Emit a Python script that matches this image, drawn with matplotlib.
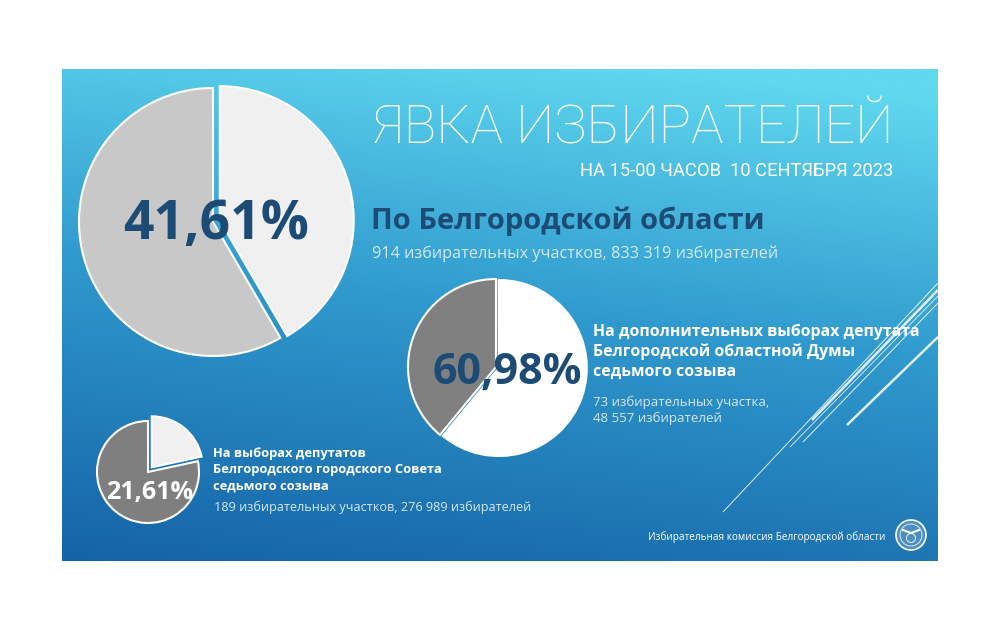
import numpy as np
import matplotlib
matplotlib.use("Agg")
import matplotlib.pyplot as plt
from matplotlib.colors import to_rgb
from matplotlib.patches import Circle

# ---- data ----
region_turnout = [41.61, 58.39]
duma_turnout = [60.98, 39.02]
city_turnout = [21.61, 78.39]

title = "ЯВКА ИЗБИРАТЕЛЕЙ"
subtitle = "НА 15-00 ЧАСОВ  10 СЕНТЯБРЯ 2023"
region_label = "По Белгородской области"
region_note = "914 избирательных участков, 833 319 избирателей"
duma_label = "На дополнительных выборах депутата\nБелгородской областной Думы\nседьмого созыва"
duma_note = "73 избирательных участка,\n48 557 избирателей"
city_label = "На выборах депутатов\nБелгородского городского Совета\nседьмого созыва"
city_note = "189 избирательных участков, 276 989 избирателей"
footer = "Избирательная комиссия Белгородской области"

W, H = 1000, 642
fig = plt.figure(figsize=(W / 100, H / 100), dpi=100)
fig.patch.set_facecolor("white")
ax = fig.add_axes([0, 0, 1, 1])
ax.set_axis_off()

def Y(y):
    return H - y

# ---- background gradient panel ----
x0, x1, y0, y1 = 62, 938, 69, 561
gh, gw = 300, 400
v = np.linspace(0, 1, gh)[:, None]
u = np.linspace(0, 1, gw)[None, :]
t = np.clip(0.85 * v + 0.18 * (1 - u) - 0.05, 0, 1)
stops = [(0.0, "#60d8ef"), (0.45, "#309ace"), (1.0, "#1461a4")]
img = np.zeros((gh, gw, 3))
for ch in range(3):
    xs = [s[0] for s in stops]
    ys = [to_rgb(s[1])[ch] for s in stops]
    img[:, :, ch] = np.interp(t, xs, ys)
ax.imshow(img, extent=(x0, x1, Y(y1), Y(y0)), origin="upper", aspect="auto", zorder=0)

# decorative lines
for (xa, ya, xb, yb, lw) in [(723, 512, 938, 283, 0.7), (812, 420, 938, 290, 1.8),
                             (803, 442, 938, 303, 0.7), (847, 425, 938, 337, 1.8),
                             (790, 447, 938, 296, 0.6)]:
    ax.plot([xa, xb], [Y(ya), Y(yb)], color="white", lw=lw, alpha=0.85, zorder=1,
            solid_capstyle="butt")

navy = "#1c4b75"
sans = ["Open Sans", "DejaVu Sans"]
thin = ["Roboto", "DejaVu Sans"]

# ---- pies (explode given in pixels, since pie radius is in pixels) ----
wp = dict(edgecolor="white", linewidth=1.5)
ax.pie(region_turnout, colors=["#f0f0f0", "#c8c8c8"], startangle=90, counterclock=False,
       center=(213, Y(222)), radius=134, explode=[7, 0], wedgeprops=wp)
ax.pie(duma_turnout, colors=["#ffffff", "#808080"], startangle=90, counterclock=False,
       center=(496, Y(367)), radius=88, explode=[3, 0], wedgeprops=wp)
ax.pie(city_turnout, colors=["#f0f0f0", "#7f7f7f"], startangle=90, counterclock=False,
       center=(148, Y(472)), radius=51, explode=[6, 0], wedgeprops=wp)

ax.set_xlim(0, W)
ax.set_ylim(0, H)

def pct(v):
    return f"{v:.2f}".replace(".", ",") + "%"

ax.text(216, Y(225), pct(region_turnout[0]), fontsize=38.5, fontweight="bold", color=navy,
        ha="center", va="center", family=sans, zorder=5)
ax.text(507, Y(372), pct(duma_turnout[0]), fontsize=31, fontweight="bold", color=navy,
        ha="center", va="center", family=sans, zorder=5)
ax.text(150, Y(492), pct(city_turnout[0]), fontsize=18, fontweight="bold", color="white",
        ha="center", va="center", family=sans, zorder=5)

# ---- texts ----
ax.text(893, Y(129), title, fontsize=39, fontweight="light", color="white",
        ha="right", va="center", family=thin)
ax.text(893, Y(171), subtitle, fontsize=13.2, color="white", ha="right", va="center",
        family=thin)
ax.text(371, Y(221), region_label, fontsize=21, fontweight="bold", color=navy,
        ha="left", va="center", family=sans)
ax.text(372, Y(254), region_note, fontsize=11.7, color="#d5e8f2", ha="left", va="center",
        family=sans)
ax.text(593, Y(352), duma_label, fontsize=11.4, fontweight="bold", color="white",
        ha="left", va="center", family=sans, linespacing=1.3)
ax.text(593, Y(410), duma_note, fontsize=9.5, color="#d5e8f2", ha="left", va="center",
        family=sans, linespacing=1.25)
ax.text(213, Y(470), city_label, fontsize=9.3, fontweight="bold", color="white",
        ha="left", va="center", family=sans, linespacing=1.3)
ax.text(214, Y(507), city_note, fontsize=9.1, color="#d5e8f2", ha="left", va="center",
        family=sans)
ax.text(885, Y(537), footer, fontsize=7.2, color="white", ha="right", va="center",
        family=sans)

# seal
ax.add_patch(Circle((911, Y(535)), 15, facecolor="#4c8fc0", edgecolor="white", lw=1.2, zorder=3))
ax.add_patch(Circle((911, Y(535)), 11, facecolor="none", edgecolor="#dce9f3", lw=0.7, zorder=3))
ax.add_patch(Circle((911, Y(538)), 4.5, facecolor="none", edgecolor="#dce9f3", lw=0.8, zorder=3))
ax.plot([903, 911, 919], [Y(530), Y(533), Y(530)], color="white", lw=1.5, zorder=4)

fig.savefig("out.png", dpi=100, facecolor="white")
